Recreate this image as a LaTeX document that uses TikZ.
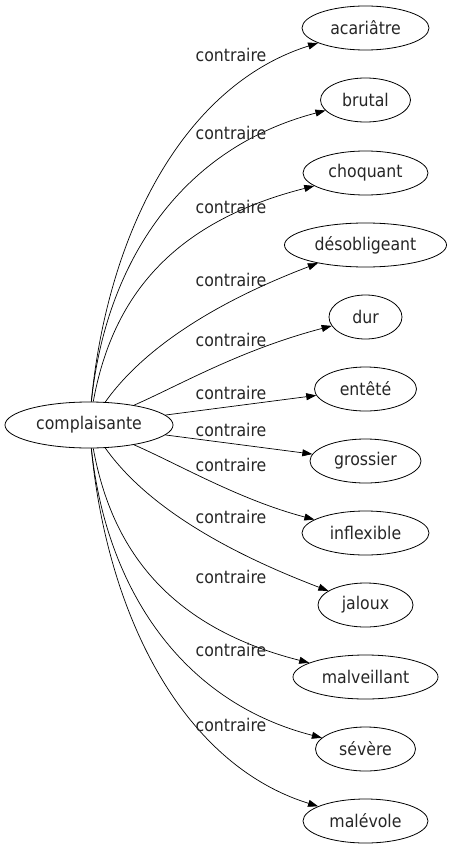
\documentclass[tikz,border=0pt]{standalone}
\usepackage{fontspec}
\setmainfont{DejaVu Sans}[FakeStretch=0.9]
\usetikzlibrary{arrows.meta,shapes.geometric}
\begin{document}
\begin{tikzpicture}[x=1pt,y=-1pt,
  every node/.style={font=\fontsize{17.5}{20}\selectfont, text=black!85},
  term/.style={draw, ellipse, inner sep=0pt, minimum height=44pt, line width=0.8pt},
  lab/.style={inner sep=0pt, anchor=center},
  rel/.style={draw, line width=0.7pt, -{Triangle[length=10pt,width=7pt]}}]
\useasboundingbox (0,0) rectangle (452,851);
\node[term, minimum width=168pt, minimum height=46pt] (c) at (89,425) {complaisante};
\node[term, minimum width=127pt] (t1) at (365.5,28) {acariâtre};
\node[term, minimum width=90pt] (t2) at (365.5,100) {brutal};
\node[term, minimum width=125pt] (t3) at (365.5,173) {choquant};
\node[term, minimum width=162pt] (t4) at (365.5,245) {désobligeant};
\node[term, minimum width=73pt] (t5) at (365.5,317) {dur};
\node[term, minimum width=102pt] (t6) at (365.5,389) {entêté};
\node[term, minimum width=111pt] (t7) at (365.5,461) {grossier};
\node[term, minimum width=127pt] (t8) at (365.5,533) {inflexible};
\node[term, minimum width=95pt] (t9) at (365.5,605) {jaloux};
\node[term, minimum width=145pt] (t10) at (365.5,677) {malveillant};
\node[term, minimum width=100pt] (t11) at (365.5,749) {sévère};
\node[term, minimum width=125pt] (t12) at (365.5,821) {malévole};
% edges
\draw[rel] (c) .. controls (108,230) and (185,85) .. (t1);
\draw[rel] (c) .. controls (105,270) and (175,150) .. (t2);
\draw[rel] (c) .. controls (110,310) and (160,225) .. (t3);
\draw[rel] (c) .. controls (135,360) and (195,310) .. (t4);
\draw[rel] (c) .. controls (180,385) and (240,350) .. (t5);
\draw[rel] (c) -- (t6);
\draw[rel] (c) -- (t7);
\draw[rel] (c) .. controls (180,465) and (240,500) .. (t8);
\draw[rel] (c) .. controls (135,490) and (195,540) .. (t9);
\draw[rel] (c) .. controls (110,540) and (160,625) .. (t10);
\draw[rel] (c) .. controls (105,580) and (175,700) .. (t11);
\draw[rel] (c) .. controls (108,620) and (185,765) .. (t12);
% labels
\node[lab] (l1) at (231,55) {contraire};
\node[lab] (l2) at (231,133) {contraire};
\node[lab] (l3) at (231,207) {contraire};
\node[lab] (l4) at (231,280) {contraire};
\node[lab] (l5) at (231,340) {contraire};
\node[lab] (l6) at (231,393) {contraire};
\node[lab] (l7) at (231,430) {contraire};
\node[lab] (l8) at (231,465) {contraire};
\node[lab] (l9) at (231,517) {contraire};
\node[lab] (l10) at (231,577) {contraire};
\node[lab] (l11) at (231,650) {contraire};
\node[lab] (l12) at (231,725) {contraire};
\end{tikzpicture}
\end{document}
